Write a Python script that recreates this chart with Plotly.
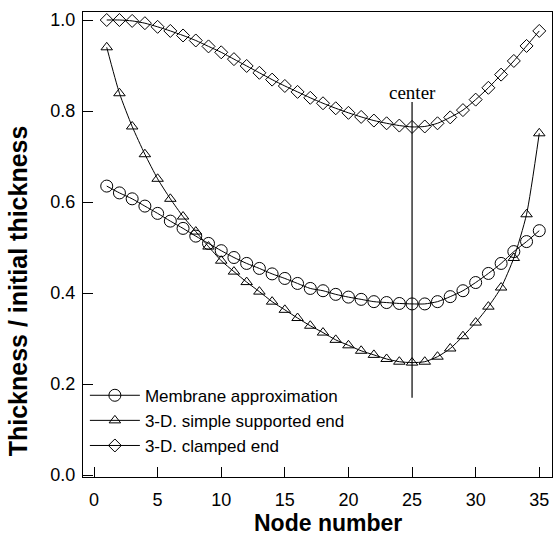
import plotly.graph_objects as go

nodes = list(range(1, 36))

membrane = [0.635, 0.620, 0.607, 0.591, 0.575, 0.558, 0.542, 0.525, 0.509, 0.493,
            0.478, 0.465, 0.454, 0.442, 0.432, 0.421, 0.410, 0.405, 0.397, 0.391,
            0.386, 0.381, 0.379, 0.377, 0.376, 0.376, 0.381, 0.392, 0.405, 0.423,
            0.443, 0.465, 0.491, 0.513, 0.537]

simple_supported = [0.940, 0.839, 0.766, 0.705, 0.651, 0.607, 0.568, 0.535, 0.502, 0.471,
                    0.447, 0.424, 0.403, 0.381, 0.363, 0.345, 0.328, 0.313, 0.297, 0.285,
                    0.273, 0.264, 0.255, 0.249, 0.247, 0.249, 0.260, 0.278, 0.305, 0.335,
                    0.370, 0.412, 0.477, 0.573, 0.751]

clamped = [1.000, 1.000, 0.998, 0.993, 0.985, 0.976, 0.966, 0.955, 0.942, 0.929,
           0.914, 0.899, 0.884, 0.869, 0.855, 0.842, 0.829, 0.817, 0.806, 0.796,
           0.787, 0.779, 0.773, 0.768, 0.765, 0.766, 0.773, 0.786, 0.802, 0.825,
           0.851, 0.880, 0.910, 0.943, 0.976]

series_names = ["Membrane approximation", "3-D. simple supported end", "3-D. clamped end"]
x_ticks = [0, 5, 10, 15, 20, 25, 30, 35]
y_ticks = [0.0, 0.2, 0.4, 0.6, 0.8, 1.0]
center_node = 25
center_line_span = (0.17, 0.82)
center_label_y = 0.84

fig = go.Figure()

styles = [("circle-open", 12), ("triangle-up-open", 10), ("diamond-open", 10)]
for name, vals, (sym, sz) in zip(series_names, [membrane, simple_supported, clamped], styles):
    fig.add_trace(go.Scatter(
        x=nodes, y=vals, name=name, mode="lines+markers",
        line=dict(color="black", width=1, shape="spline", smoothing=0.6),
        marker=dict(symbol=sym, size=sz, color="black", line=dict(color="black", width=1)),
    ))

fig.add_shape(type="line", xref="x", yref="y", x0=center_node, x1=center_node,
              y0=center_line_span[0], y1=center_line_span[1],
              line=dict(color="black", width=1.2))
fig.add_annotation(x=center_node, y=center_label_y, xref="x", yref="y", text="center",
                   showarrow=False, font=dict(family="Liberation Serif", size=19, color="black"),
                   xanchor="center", yanchor="middle")

fig.add_annotation(x=-0.138, y=0.40, xref="paper", yref="paper",
                   text="<b>Thickness / initial thickness</b>", textangle=-90, showarrow=False,
                   font=dict(family="Liberation Sans", size=25, color="black"),
                   xanchor="center", yanchor="middle")
fig.add_annotation(x=0.523, y=-0.099, xref="paper", yref="paper",
                   text="<b>Node number</b>", showarrow=False,
                   font=dict(family="Liberation Sans", size=23, color="black"),
                   xanchor="center", yanchor="middle")

axis_common = dict(showline=True, linecolor="black", linewidth=1.2, mirror=True,
                   ticks="inside", ticklen=10, tickcolor="black", tickwidth=1,
                   showgrid=False, zeroline=False,
                   tickfont=dict(family="Liberation Sans", size=18, color="black"))

fig.update_xaxes(range=[-0.865, 36.0], tickvals=x_ticks, ticklabelstandoff=6, **axis_common)
fig.update_yaxes(range=[-0.0044, 1.0176], tickvals=y_ticks, tickformat=".1f",
                 ticklabelstandoff=3, **axis_common)

fig.update_layout(
    width=554, height=536,
    margin=dict(l=83, r=2, t=12, b=59),
    paper_bgcolor="white", plot_bgcolor="white",
    showlegend=True,
    legend=dict(x=0.004, y=0.2135, xanchor="left", yanchor="top",
                bgcolor="rgba(0,0,0,0)", borderwidth=0, itemwidth=50,
                font=dict(family="Liberation Sans", size=17, color="black"),
                tracegroupgap=0),
    font=dict(family="Liberation Sans", color="black"),
)

fig.write_html("out.html")
